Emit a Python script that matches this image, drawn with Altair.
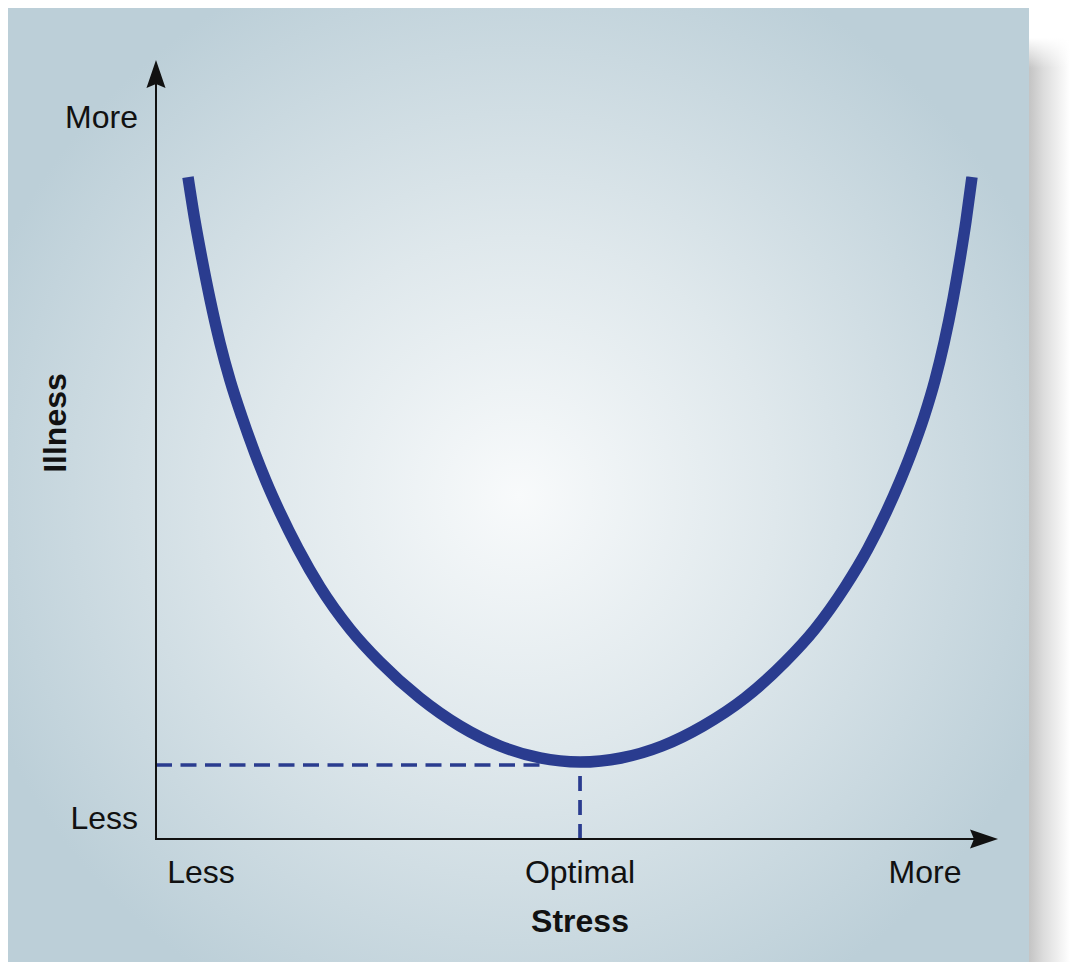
import altair as alt
import pandas as pd

# ---------------- data (Stress on x: 0 = origin, 100 = arrow tip; Illness on y likewise)
stress = [3.80, 4.63, 5.46, 6.41, 7.60, 8.79, 10.21, 11.76, 13.06, 14.73, 16.86, 19.48,
          23.04, 26.60, 31.35, 36.10, 40.86, 45.61, 50.36,
          55.23, 60.10, 64.96, 69.95, 74.70, 78.27, 81.83, 84.56, 86.70, 88.36, 89.67,
          91.21, 92.52, 93.59, 94.66, 95.49, 96.20, 96.91]
illness = [84.98, 79.33, 74.45, 69.32, 63.67, 58.92, 54.17, 49.49, 45.96, 41.91, 37.29, 32.35,
           26.96, 22.72, 18.10, 14.51, 11.94, 10.40, 9.88,
           10.40, 11.94, 14.51, 18.10, 22.72, 26.96, 32.35, 37.29, 41.91, 45.96, 49.49,
           54.17, 58.92, 63.67, 69.32, 74.45, 79.33, 84.98]

optimal_stress = 50.36
optimal_illness = 9.5

x_tick_labels = ["Less", "Optimal", "More"]
x_tick_pos = [5.34, 50.36, 91.33]
x_tick_row = -5.65
y_tick_labels = ["Less", "More"]
y_tick_pos = [1.28, 91.27]
y_tick_col = -2.14

x_title = "Stress"
x_title_pos = [50.36, -11.94]
y_title = "Illness"
y_title_pos = [-10.69, 53.4]

axis_x_end = 97.3
axis_y_end = 96.9
arrow_x_pos = [98.34, 0.0]
arrow_y_pos = [0.0, 98.2]

# ---------------- scales
W, H = 1070, 954
XS = alt.Scale(domain=[-17.577, 109.501], nice=False, zero=False)
YS = alt.Scale(domain=[-15.789, 106.675], nice=False, zero=False)
FONT = "Liberation Sans"
BLUE = "#2a3c8f"


def X(f="s"):
    return alt.X(f"{f}:Q", scale=XS, axis=None)


def Y(f="i"):
    return alt.Y(f"{f}:Q", scale=YS, axis=None)


one = pd.DataFrame({"k": [0]})

panel = alt.Chart(one).mark_rect(
    fill=alt.RadialGradient(
        gradient="radial", x1=0.5, y1=0.51, r1=0, x2=0.5, y2=0.51, r2=0.56,
        stops=[alt.GradientStop(offset=0, color="#f8fafb"),
               alt.GradientStop(offset=0.45, color="#dfe8ec"),
               alt.GradientStop(offset=1, color="#bccfd8")]),
    stroke=None,
).encode(x=alt.value(0), x2=alt.value(1021), y=alt.value(0), y2=alt.value(H))

white = alt.Chart(one).mark_rect(fill="#ffffff", stroke=None).encode(
    x=alt.value(1021), x2=alt.value(W), y=alt.value(0), y2=alt.value(H))

shadow = alt.Chart(one).mark_rect(
    fill=alt.LinearGradient(
        gradient="linear", x1=0, y1=0, x2=1, y2=0,
        stops=[alt.GradientStop(offset=0, color="#c4c4c4"),
               alt.GradientStop(offset=0.35, color="#dcdcdc"),
               alt.GradientStop(offset=1, color="#ffffff")]),
    stroke=None,
).encode(x=alt.value(1021), x2=alt.value(1062), y=alt.value(30), y2=alt.value(H))

shadow_top = alt.Chart(one).mark_rect(
    fill=alt.LinearGradient(
        gradient="linear", x1=0, y1=0, x2=0, y2=1,
        stops=[alt.GradientStop(offset=0, color="rgba(255,255,255,1)"),
               alt.GradientStop(offset=1, color="rgba(255,255,255,0)")]),
    stroke=None,
).encode(x=alt.value(1021), x2=alt.value(1062), y=alt.value(30), y2=alt.value(60))

curve_df = pd.DataFrame({"s": stress, "i": illness})
curve = alt.Chart(curve_df).mark_line(
    color=BLUE, strokeWidth=11.5, interpolate="monotone", strokeCap="butt"
).encode(x=X(), y=Y())

hdash = alt.Chart(pd.DataFrame({"s": [0.0], "s2": [46.2], "i": [optimal_illness]})).mark_rule(
    color=BLUE, strokeWidth=3.7, strokeDash=[16, 8.5]
).encode(x=X(), x2="s2:Q", y=Y())

vdash = alt.Chart(pd.DataFrame({"s": [optimal_stress], "i": [0.0], "i2": [optimal_illness]})).mark_rule(
    color=BLUE, strokeWidth=3.7, strokeDash=[15, 9]
).encode(x=X(), y=Y(), y2="i2:Q")

xaxis = alt.Chart(pd.DataFrame({"s": [0.0], "s2": [axis_x_end], "i": [0.0]})).mark_rule(
    color="#111111", strokeWidth=2, strokeCap="square"
).encode(x=X(), x2="s2:Q", y=Y())

yaxis = alt.Chart(pd.DataFrame({"s": [0.0], "i": [0.0], "i2": [axis_y_end]})).mark_rule(
    color="#111111", strokeWidth=2, strokeCap="square"
).encode(x=X(), y=Y(), y2="i2:Q")

ARROW = "M0,-1L0.68,1L0,0.72L-0.68,1Z"
arrows = alt.Chart(pd.DataFrame({
    "s": [arrow_x_pos[0], arrow_y_pos[0]],
    "i": [arrow_x_pos[1], arrow_y_pos[1]],
    "ang": [90, 0],
})).mark_point(shape=ARROW, size=784, filled=True, color="#111111", opacity=1, strokeWidth=0).encode(
    x=X(), y=Y(), angle=alt.Angle("ang:Q", scale=None))

xticks = alt.Chart(pd.DataFrame({"s": x_tick_pos, "i": [x_tick_row] * 3, "t": x_tick_labels})).mark_text(
    font=FONT, fontSize=32, color="#111111", align="center", baseline="alphabetic"
).encode(x=X(), y=Y(), text="t:N")

yticks = alt.Chart(pd.DataFrame({"s": [y_tick_col] * 2, "i": y_tick_pos, "t": y_tick_labels})).mark_text(
    font=FONT, fontSize=32, color="#111111", align="right", baseline="alphabetic"
).encode(x=X(), y=Y(), text="t:N")

xtitle = alt.Chart(pd.DataFrame({"s": [x_title_pos[0]], "i": [x_title_pos[1]], "t": [x_title]})).mark_text(
    font=FONT, fontSize=32, fontWeight="bold", color="#111111", align="center", baseline="alphabetic"
).encode(x=X(), y=Y(), text="t:N")

ytitle = alt.Chart(pd.DataFrame({"s": [y_title_pos[0]], "i": [y_title_pos[1]], "t": [y_title]})).mark_text(
    font=FONT, fontSize=32, fontWeight="bold", color="#111111", align="center", baseline="alphabetic",
    angle=270
).encode(x=X(), y=Y(), text="t:N")

chart = alt.layer(
    panel, white, shadow, shadow_top, hdash, vdash, xaxis, yaxis, arrows, curve,
    xticks, yticks, xtitle, ytitle
).properties(
    width=W, height=H, padding=0, background="#f1d88e",
    autosize=alt.AutoSizeParams(type="none")
).configure_view(stroke=None)

chart.save("out.html", embed_options={"renderer": "svg", "actions": False})
